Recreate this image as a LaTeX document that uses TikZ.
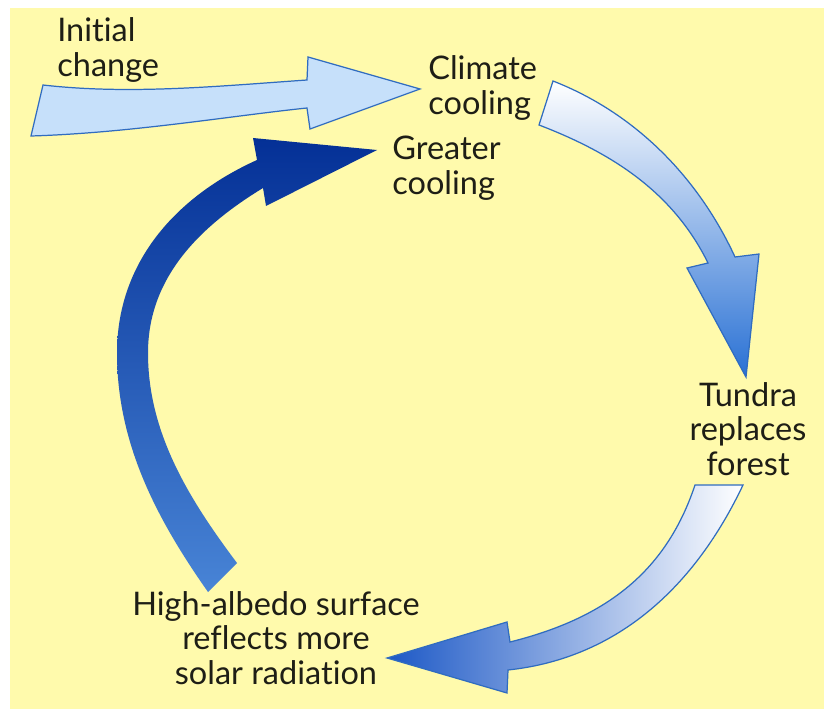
\documentclass[tikz,border=0pt]{standalone}
\usepackage{fontspec}
\setmainfont{Lato}[Ligatures=NoCommon]
\usepackage{tikz}
\usetikzlibrary{calc}

\definecolor{paper}{RGB}{255,250,172}
\definecolor{edgeblue}{RGB}{48,108,192}
\definecolor{paleblue}{RGB}{198,224,250}
\definecolor{midblue}{RGB}{40,112,212}
\definecolor{deepblue}{RGB}{28,88,198}
\definecolor{navy}{RGB}{4,48,150}
\definecolor{lowblue}{RGB}{72,132,214}
\definecolor{ink}{RGB}{30,30,22}

\tikzset{
  txt/.style={inner sep=0pt, text=ink, font=\fontsize{18.5}{19.6}\selectfont},
  fat/.style={draw=edgeblue, line width=0.7pt, line join=miter},
}

\begin{document}
\begin{tikzpicture}[x=0.02cm, y=-0.02cm]
  \useasboundingbox (0,0) rectangle (824,709);
  \fill[paper] (10,8) rectangle (824,709);

  % Labels
  \node[txt, anchor=west, align=left] (init) at (57,50) {Initial\\change};
  \node[txt, anchor=west, align=left] (climate) at (428,88) {Climate\\cooling};
  \node[txt, anchor=west, align=left] (greater) at (392,168) {Greater\\cooling};
  \node[txt, align=center] (tundra) at (748,429) {Tundra\\replaces\\forest};
  \node[txt, align=center] (albedo) at (276,638) {High-albedo surface\\reflects more\\solar radiation};

  % Initial change
  \coordinate (tip1) at ($(climate.west)+(-8,1)$);
  \filldraw[fat, fill=paleblue] (43,85) .. controls (130,95) and (220,86) .. (307,80)
    -- (308,57) -- (tip1) -- (310,129) -- (307,108)
    .. controls (230,116) and (130,133) .. (31,136) -- cycle;

  % Cooling -> tundra
  \coordinate (tip2) at ($(tundra.north)+(-2,-5)$);
  \shadedraw[fat, top color=white, bottom color=midblue]
    (553,81) .. controls (635,113) and (698,177) .. (735,257)
    -- (759,254) -- (tip2) -- (687,268) -- (708,263)
    .. controls (673,192) and (612,153) .. (539,125) -- cycle;

  % Tundra -> albedo
  \coordinate (tip3) at ($(albedo.east)+(-33,20)$);
  \shadedraw[fat, left color=deepblue, right color=white]
    (743,485) .. controls (696,584) and (620,658) .. (508,670)
    -- (507,693) -- (tip3) -- (507,622) -- (510,642)
    .. controls (602,619) and (665,575) .. (695,485) -- cycle;

  % Albedo -> greater cooling
  \coordinate (tip4) at ($(greater.west)+(-15,-18)$);
  \shade[top color=navy, middle color=navy, bottom color=lowblue]
    (208,592) .. controls (156,518) and (117,443) .. (117,353)
    .. controls (117,263) and (175,197) .. (257,160)
    -- (253,138) -- (tip4) -- (266,206) -- (263,188)
    .. controls (199,227) and (148,278) .. (148,353)
    .. controls (148,433) and (189,499) .. (237,563) -- cycle;
\end{tikzpicture}
\end{document}
